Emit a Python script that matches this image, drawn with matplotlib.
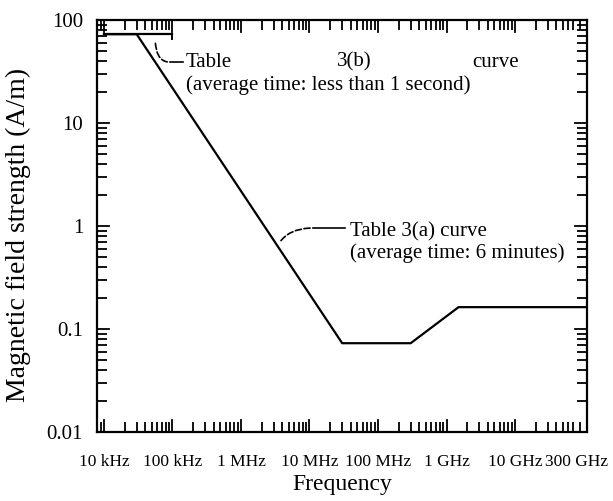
import matplotlib
matplotlib.use("Agg")
import matplotlib.pyplot as plt
from matplotlib.ticker import LogLocator, NullFormatter

plt.rcParams['font.family'] = ['Liberation Serif', 'DejaVu Serif']

# Table 3(a) curve (average time: 6 minutes)
freq_a = [1e4, 3e4, 3e7, 3e8, 1.5e9, 3e11]
h_a = [72.8, 72.8, 0.0728, 0.0728, 0.163, 0.163]

# Table 3(b) curve (average time: less than 1 second)
freq_b = [1e4, 1e5]
h_b = [72.8, 72.8]

tick_freqs = [1e4, 1e5, 1e6, 1e7, 1e8, 1e9, 1e10, 8.0e10]
tick_labels = ['10 kHz', '100 kHz', '1 MHz', '10 MHz', '100 MHz', '1 GHz', '10 GHz', '300 GHz']
y_ticks = [0.01, 0.1, 1, 10, 100]
y_labels = ['0.01', '0.1', '1', '10', '100']

fig = plt.figure(figsize=(6.13, 5.01), dpi=100)
ax = fig.add_axes([97 / 613, 1 - 432 / 501, 490 / 613, 412 / 501])

ax.plot(freq_a, h_a, color='black', lw=1.6)
ax.plot(freq_b, h_b, color='black', lw=1.6)
ax.plot([1e5, 1e5], [72.8, 66], color='black', lw=1.4)

ax.set_xscale('log')
ax.set_yscale('log')
ax.set_xlim(10 ** 3.898, 10 ** 11.051)
ax.set_ylim(0.01, 100)

for s in ax.spines.values():
    s.set_linewidth(1.6)

ax.xaxis.set_minor_locator(LogLocator(base=10, subs=range(2, 10), numticks=20))
ax.yaxis.set_minor_locator(LogLocator(base=10, subs=range(2, 10), numticks=20))
ax.xaxis.set_minor_formatter(NullFormatter())
ax.yaxis.set_minor_formatter(NullFormatter())
ax.tick_params(which='both', direction='in', top=True, right=True, width=1.3)
ax.tick_params(which='major', length=0)
ax.tick_params(which='minor', length=7)

ax.set_xticks(tick_freqs)
ax.set_xticklabels(tick_labels, fontsize=12.5)
ax.set_yticks(y_ticks)
ax.set_yticklabels(y_labels, fontsize=15)
ax.tick_params(axis='x', which='major', pad=16)
ax.tick_params(axis='y', which='major', pad=10)
# decade marks drawn separately so the labels keep their pad
for f in [1e4, 1e5, 1e6, 1e7, 1e8, 1e9, 1e10]:
    ax.axvline(f, ymin=0, ymax=0.03, color='black', lw=1.3)
    ax.axvline(f, ymin=0.97, ymax=1, color='black', lw=1.3)
for v in [0.1, 1, 10]:
    ax.axhline(v, xmin=0, xmax=0.025, color='black', lw=1.3)
    ax.axhline(v, xmin=0.975, xmax=1, color='black', lw=1.3)

ax.set_xlabel('Frequency', fontsize=17, labelpad=3)
ax.set_ylabel('Magnetic field strength (A/m)', fontsize=20)
ax.yaxis.set_label_coords(-0.135, 0.478)

# labels for Table 3(b)
ax.annotate('', xy=(5.6e4, 66), xytext=(9.2e4, 39),
            arrowprops=dict(arrowstyle='-', lw=1.2, ls='--',
                            connectionstyle='angle3,angleA=0,angleB=90'))
ax.plot([9.2e4, 1.42e5], [39, 39], color='black', lw=1.2)
ax.text(1.57e5, 39, 'Table', fontsize=15, va='center', ha='left')
ax.text(2.52e7, 39, '3(b)', fontsize=15, va='center', ha='left')
ax.text(2.36e9, 39, 'curve', fontsize=15, va='center', ha='left')
ax.text(1.57e5, 23.4, '(average time: less than 1 second)', fontsize=15,
        va='center', ha='left')

# labels for Table 3(a)
ax.annotate('', xy=(3.47e6, 0.655), xytext=(1.12e7, 0.956),
            arrowprops=dict(arrowstyle='-', lw=1.2, ls='--',
                            connectionstyle='angle3,angleA=0,angleB=60'))
ax.plot([1.12e7, 3.3e7], [0.956, 0.956], color='black', lw=1.2)
ax.text(3.9e7, 0.88, 'Table 3(a) curve', fontsize=15, va='center', ha='left')
ax.text(3.9e7, 0.55, '(average time: 6 minutes)', fontsize=15,
        va='center', ha='left')

fig.savefig('out.png', dpi=100)
